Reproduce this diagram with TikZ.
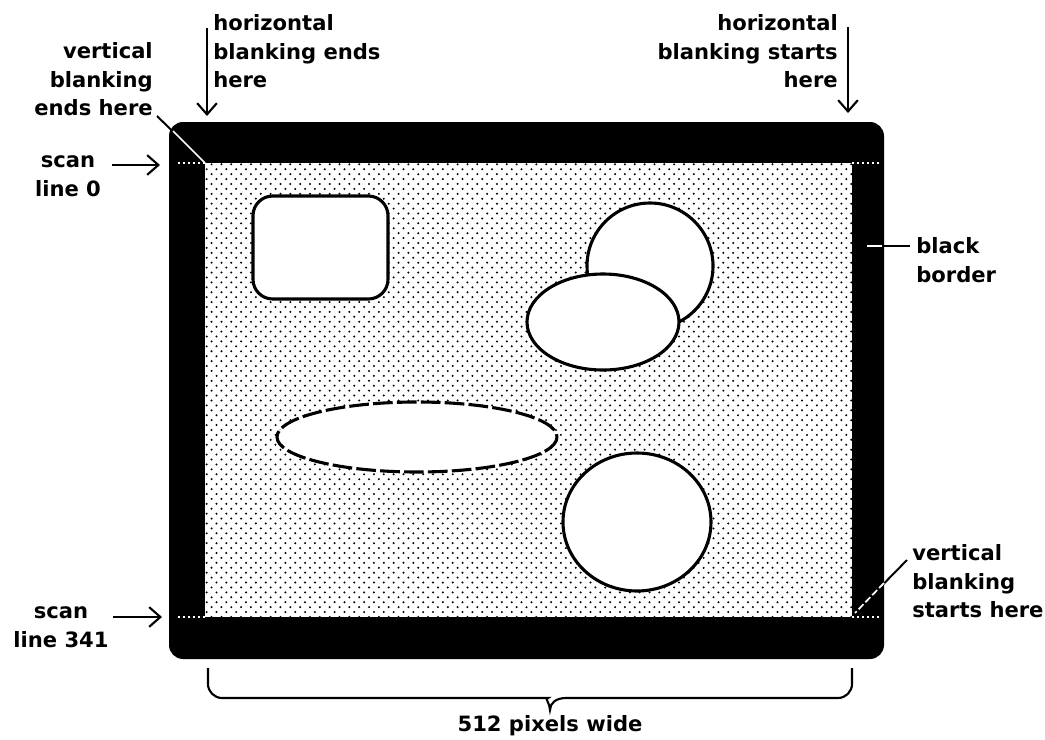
\documentclass[tikz,border=0pt]{standalone}
\usepackage{fontspec}
\setmainfont{DejaVu Sans}
\usetikzlibrary{arrows.meta,positioning,patterns.meta}
\tikzset{
  lbl/.style={font=\bfseries\fontsize{15}{20.5}\selectfont, inner sep=0pt},
  pointer/.style={line width=1.5pt, -{Straight Barb[length=8pt,width=14pt,line width=1.5pt]}},
  leader/.style={line width=1.4pt},
  whiteleader/.style={line width=1.2pt, white},
  scanline/.style={white, line width=1.2pt, dash pattern=on 1.2pt off 2.4pt},
  blob/.style={draw=black, fill=white, line width=2.2pt},
  brace/.style={line width=1.5pt},
}

\begin{document}
\begin{tikzpicture}[x=0.25mm,y=-0.25mm]
    \useasboundingbox (0,0) rectangle (1045,740);

    %%% Screen corners %%%
    \coordinate (oTL) at (169,122);     \coordinate (oBR) at (884,659);
    \coordinate (iTL) at (205,163);     \coordinate (iBR) at (852,617);
    \coordinate (iTR) at (852,163);     \coordinate (iBL) at (205,617);

    %%% Leader ends %%%
    \coordinate (vbeEnd) at (157,116);  \coordinate (vbeIn) at (173,131);
    \coordinate (vbsEnd) at (907,560);  \coordinate (vbsIn) at (884,583);  \coordinate (vbsTip) at (855,613);
    \coordinate (bbEnd) at (910,246);   \coordinate (bbIn) at (882,246);   \coordinate (bbTip) at (867,246);

    \draw[leader] (vbeEnd)--(iTL);      \draw[leader] (vbsEnd)--(vbsTip);  \draw[leader] (bbEnd)--(bbTip);

    %%% Black border and stippled screen %%%
    \fill[rounded corners=10pt] (oTL) rectangle (oBR);
    \fill[white] (iTL) rectangle (iBR);
    \fill[pattern={Dots[distance=7pt,radius=0.8pt]}] (iTL) rectangle (iBR);
    \fill[pattern={Dots[distance=7pt,radius=0.8pt,xshift=3.5pt,yshift=3.5pt]}] (iTL) rectangle (iBR);

    %%% Shapes on the screen %%%
    \draw[blob, rounded corners=14pt] (253,196) rectangle (388,299);
    \draw[blob] (650,266) ellipse [x radius=63, y radius=63];
    \draw[blob] (603,322) ellipse [x radius=76, y radius=48];
    \draw[blob, dash pattern=on 14pt off 3pt] (417,437) ellipse [x radius=140, y radius=35];
    \draw[blob] (637,522) ellipse [x radius=74, y radius=69];

    %%% White marks inside the border %%%
    \coordinate (s0L) at (178,163);     \coordinate (s0R) at (880,163);
    \coordinate (s1L) at (178,617);     \coordinate (s1R) at (880,617);
    \draw[scanline] (s0L)--(iTL);       \draw[scanline] (iTR)--(s0R);
    \draw[scanline] (s1L)--(iBL);       \draw[scanline] (iBR)--(s1R);
    \draw[whiteleader] (vbeIn)--(iTL);
    \draw[whiteleader, dash pattern=on 5pt off 2pt] (vbsIn)--(vbsTip);
    \draw[whiteleader] (bbIn)--(bbTip);

    %%% Labels %%%
    \node[lbl, anchor=north west, align=left] (hbe) at (213,14) {horizontal\\blanking ends\\here};
    \node[lbl, anchor=north east, align=right] (hbs) at (838,14) {horizontal\\blanking starts\\here};
    \node[lbl, anchor=north east, align=right] (vbe) at (153,42) {vertical\\blanking\\ends here};
    \node[lbl, align=center] (scan0) at (68,176) {scan\\line 0};
    \node[lbl, align=center] (scan341) at (61,627) {scan\\line 341};
    \node[lbl, anchor=north west, align=left] (bb) at (916,237) {black\\border};
    \node[lbl, anchor=north west, align=left] (vbs) at (912,544) {vertical\\blanking\\starts here};

    %%% Arrows %%%
    \coordinate (hbeTail) at (207,28);  \coordinate (hbeTip) at (207,116);
    \coordinate (hbsTail) at (848,27);  \coordinate (hbsTip) at (848,113);
    \coordinate (s0Tail) at (112,165);  \coordinate (s0Tip) at (160,165);
    \coordinate (s1Tail) at (113,617);  \coordinate (s1Tip) at (162,617);
    \draw[pointer] (hbeTail)--(hbeTip); \draw[pointer] (hbsTail)--(hbsTip);
    \draw[pointer] (s0Tail)--(s0Tip);   \draw[pointer] (s1Tail)--(s1Tip);

    %%% Brace %%%
    \coordinate (bL) at (208,668);      \coordinate (bR) at (852,668);      \coordinate (tip) at (550,710);
    \draw[brace] (bL) [rounded corners=10pt] |- (534,698) [sharp corners]
        .. controls (544,698) and (550,703) .. (tip)
        .. controls (550,703) and (556,698) .. (566,698) [rounded corners=10pt] -| (bR);
    \node[lbl, below=4pt of tip] (width) {512 pixels wide};

\end{tikzpicture}
\end{document}
